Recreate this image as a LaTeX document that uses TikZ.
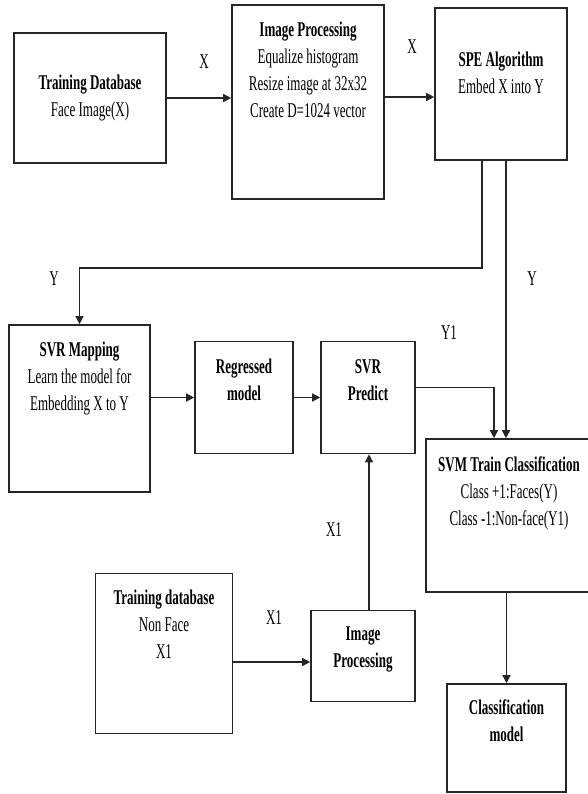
\documentclass[tikz,border=0pt]{standalone}
\usepackage{fontspec}
\setmainfont{Liberation Serif}[FakeStretch=0.62]
\usetikzlibrary{positioning,arrows.meta}

\tikzset{
	box/.style={draw=black!85, line width=1.6pt, rectangle, inner sep=0pt},
	txt/.style={inner sep=0pt, align=center, font=\fontsize{21}{27}\selectfont},
	lbl/.style={inner sep=0pt, font=\fontsize{21}{27}\selectfont},
	flow/.style={draw=black!85, line width=1.4pt, -{Triangle[length=8pt,width=8pt]}}
}

\begin{document}
\begin{tikzpicture}[x=1pt, y=-1pt]
	\useasboundingbox (0,0) rectangle (587,794);

	%boxes
	\node[box, minimum width=152pt, minimum height=130pt] (facedb) at (90,98) {};
	\node[box, minimum width=152pt, minimum height=194pt] (imgproc) at (308,102) {};
	\node[box, minimum width=132pt, minimum height=152pt] (spe) at (501,84) {};
	\node[box, minimum width=141pt, minimum height=167pt] (svrmap) at (79.5,408.5) {};
	\node[box, minimum width=98pt, minimum height=112pt] (regr) at (244,397.5) {};
	\node[box, minimum width=94pt, minimum height=112pt] (pred) at (368,397.5) {};
	\node[box, minimum width=166pt, minimum height=153pt] (svm) at (509,515.5) {};
	\node[box, minimum width=119pt, minimum height=108pt] (cls) at (506.5,738) {};
	\node[box, minimum width=137pt, minimum height=160pt] (nf) at (164,653.5) {};
	\node[box, minimum width=104pt, minimum height=91pt] (ip2) at (363,656) {};

	%box texts
	\node[txt] (facedbT) at (facedb) {\textbf{Training Database}\\Face Image(X)};
	\node[txt, below=18pt of imgproc.north] (imgprocT) {\textbf{Image Processing}\\Equalize histogram\\Resize image at 32x32\\Create D=1024 vector};
	\node[txt, below=45pt of spe.north] (speT) {\textbf{SPE Algorithm}\\Embed X into Y};
	\node[txt, below=18pt of svrmap.north] (svrmapT) {\textbf{SVR Mapping}\\Learn the model for\\Embedding X to Y};
	\node[txt, below=18pt of regr.north] (regrT) {\textbf{Regressed}\\\textbf{model}};
	\node[txt, below=19pt of pred.north] (predT) {\textbf{SVR}\\\textbf{Predict}};
	\node[txt, below=18pt of svm.north] (svmT) {\textbf{SVM Train Classification}\\Class +1:Faces(Y)\\Class -1:Non-face(Y1)};
	\node[txt, below=16pt of cls.north] (clsT) {\textbf{Classification}\\\textbf{model}};
	\node[txt, below=17pt of nf.north] (nfT) {\textbf{Training database}\\Non Face\\X1};
	\node[txt, below=17pt of ip2.north] (ip2T) {\textbf{Image}\\\textbf{Processing}};

	%arrows
	\draw[flow] (facedb.east) -- (facedb.east -| imgproc.west);
	\coordinate (xin) at ([yshift=5pt]imgproc.east);
	\draw[flow] (xin) -- (xin -| spe.west);
	\coordinate (yturn) at (482,268);
	\draw[flow] (yturn |- spe.south) -- (yturn) -| (svrmap.north);
	\coordinate (ysplit) at ([xshift=5pt]spe.south);
	\draw[flow] (ysplit) -- (ysplit |- svm.north);
	\draw[flow] (svrmap.east |- regr.west) -- (regr.west);
	\draw[flow] (regr.east) -- (pred.west);
	\coordinate (y1out) at ([yshift=10pt]pred.east);
	\coordinate (y1in) at ([xshift=-15pt]svm.north);
	\draw[flow] (y1out) -| (y1in);
	\coordinate (x1up) at ([xshift=6pt]ip2.north);
	\draw[flow] (x1up) -- (x1up |- pred.south);
	\coordinate (x1in) at ([yshift=-6pt]ip2.west);
	\draw[flow] (nf.east |- x1in) -- (x1in);
	\draw[flow] (cls.north |- svm.south) -- (cls.north);

	%labels
	\node[lbl] (xa) at (204,62) {X};
	\node[lbl] (xb) at (412,47) {X};
	\node[lbl] (ya) at (54,279) {Y};
	\node[lbl] (yb) at (532,279) {Y};
	\node[lbl] (y1) at (449,333) {Y1};
	\node[lbl] (x1a) at (334,530) {X1};
	\node[lbl] (x1b) at (274,618) {X1};
\end{tikzpicture}
\end{document}
